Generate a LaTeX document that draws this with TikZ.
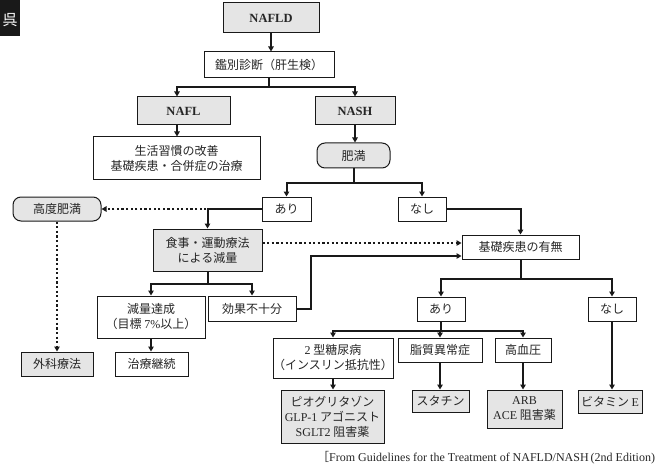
\documentclass[tikz,border=0pt]{standalone}
\usepackage{fontspec}
\setmainfont{Noto Sans CJK JP}
\newfontfamily\lat{Liberation Serif}
\usetikzlibrary{arrows.meta}
\begin{document}
\begin{tikzpicture}[x=1pt,y=-1pt,
  box/.style={draw=black!90,line width=1pt,fill=white,align=center,inner sep=0pt,text=black!85,font=\fontsize{12}{15}\selectfont},
  gbox/.style={box,fill=black!10},
  rbox/.style={box,rounded corners=8pt},
  tbox/.style={gbox,font=\fontsize{12.5}{15}\selectfont\lat\bfseries},
  link/.style={line width=2pt,black!90},
  conn/.style={link,-{Triangle[length=5pt,width=5.5pt]}},
  dot/.style={line width=2.2pt,black!90,dash pattern=on 2.2pt off 2.4pt,-{Triangle[length=5pt,width=5.5pt]}},
]
\useasboundingbox (0,0) rectangle (663,465);
% corner mark
\fill[black!90] (0,0) rectangle (20,36);
\node[text=white,font=\fontsize{15}{15}\selectfont,inner sep=0pt] (mark) at (10,20) {呉};
% nodes
\node[tbox,minimum width=96pt,minimum height=30pt] (nafld) at (271,18) {NAFLD};
\node[box,minimum width=130pt,minimum height=26pt] (kan) at (269,65) {鑑別診断（肝生検）};
\node[tbox,minimum width=93pt,minimum height=28pt] (nafl) at (183.5,111) {NAFL};
\node[tbox,minimum width=80pt,minimum height=28pt] (nash) at (355,111) {NASH};
\node[box,minimum width=167pt,minimum height=42pt] (seik) at (176.5,158) {生活習慣の改善\\基礎疾患・合併症の治療};
\node[rbox,fill=black!10,minimum width=73pt,minimum height=25pt] (obe) at (353.5,155.5) {肥満};
\node[box,minimum width=49pt,minimum height=24pt] (ari1) at (286.5,209) {あり};
\node[box,minimum width=48pt,minimum height=24pt] (nashi1) at (422,209) {なし};
\node[rbox,fill=black!10,minimum width=88pt,minimum height=24pt] (kodo) at (57,209) {高度肥満};
\node[gbox,minimum width=109pt,minimum height=42pt] (shoku) at (207.5,250) {食事・運動療法\\による減量};
\node[box,minimum width=117pt,minimum height=24pt] (kiso) at (520.5,247) {基礎疾患の有無};
\node[box,minimum width=108pt,minimum height=42pt] (genryo) at (151,317) {減量達成\\（目標 {\lat 7\%}以上）};
\node[box,minimum width=88pt,minimum height=25pt] (koka) at (252,308.5) {効果不十分};
\node[box,minimum width=73pt,minimum height=24pt] (chiryo) at (151.5,364) {治療継続};
\node[gbox,minimum width=72pt,minimum height=24pt] (geka) at (57,364) {外科療法};
\node[box,minimum width=48pt,minimum height=24pt] (ari2) at (441,309) {あり};
\node[box,minimum width=48pt,minimum height=24pt] (nashi2) at (612,309) {なし};
\node[box,minimum width=120pt,minimum height=40pt] (dm) at (333,358) {{\lat 2} 型糖尿病\\（インスリン抵抗性）};
\node[box,minimum width=84pt,minimum height=24pt] (lip) at (440,350) {脂質異常症};
\node[box,minimum width=56pt,minimum height=24pt] (ht) at (523,350) {高血圧};
\node[gbox,minimum width=103pt,minimum height=53pt] (pio) at (332.5,416.5) {ピオグリタゾン\\{\lat GLP-1} アゴニスト\\{\lat SGLT2} 阻害薬};
\node[gbox,minimum width=57pt,minimum height=22pt] (stat) at (440.5,401) {スタチン};
\node[gbox,minimum width=75pt,minimum height=38pt] (arb) at (524.5,409) {{\lat ARB}\\{\lat ACE} 阻害薬};
\node[gbox,minimum width=64pt,minimum height=23pt] (vit) at (610,401.5) {ビタミン {\lat E}};
\node[anchor=west,inner sep=0pt,text=black!85,font=\fontsize{12}{14}\selectfont] (cap) at (317,458) {［{\lat From Guidelines for the Treatment of NAFLD/NASH\,(2nd Edition)}};
% connectors
\draw[conn] (nafld.south) -- (nafld.south |- kan.north);
\draw[link] (kan.south) -- ++(0,9) coordinate (j1);
\draw[conn] (j1) -| ([xshift=-6.5pt]nafl.north);
\draw[conn] (j1) -| (nash.north);
\draw[conn] ([xshift=-6.5pt]nafl.south) -- ([xshift=-6.5pt]nafl.south |- seik.north);
\draw[conn] (nash.south) -- (nash.south |- obe.north);
\draw[link] (obe.south) -- ++(0,14) coordinate (j2);
\draw[conn] (j2) -| (ari1.north);
\draw[conn] (j2) -| (nashi1.north);
\draw[conn] (ari1.west) -| (shoku.north);
\draw[dot] (ari1.west) -- (kodo.east);
\draw[dot] (kodo.south) -- (geka.north);
\draw[dot] ([yshift=4pt]kiso.west -| shoku.east) -- ([yshift=4pt]kiso.west);
\draw[conn] (nashi1.east) -| (kiso.north);
\draw[conn] (koka.east) -- ++(14,0) |- ([yshift=-9pt]kiso.west);
\draw[link] (shoku.south) -- ++(0,12) coordinate (j3);
\draw[conn] (j3) -| (genryo.north);
\draw[conn] (j3) -| (koka.north);
\draw[conn] (genryo.south) -- (genryo.south |- chiryo.north);
\draw[link] (kiso.south) -- ++(0,19) coordinate (j4);
\draw[conn] (j4) -| (ari2.north);
\draw[conn] (j4) -| (nashi2.north);
\draw[link] (ari2.south) -- ++(0,9) coordinate (j5);
\draw[conn] (j5) -| (dm.north);
\draw[conn] (j5) -| (lip.north);
\draw[conn] (j5) -| (ht.north);
\draw[conn] (dm.south) -- (dm.south |- pio.north);
\draw[conn] (lip.south) -- (lip.south |- stat.north);
\draw[conn] (ht.south) -- (ht.south |- arb.north);
\draw[conn] (nashi2.south) -- (nashi2.south |- vit.north);
\end{tikzpicture}
\end{document}
